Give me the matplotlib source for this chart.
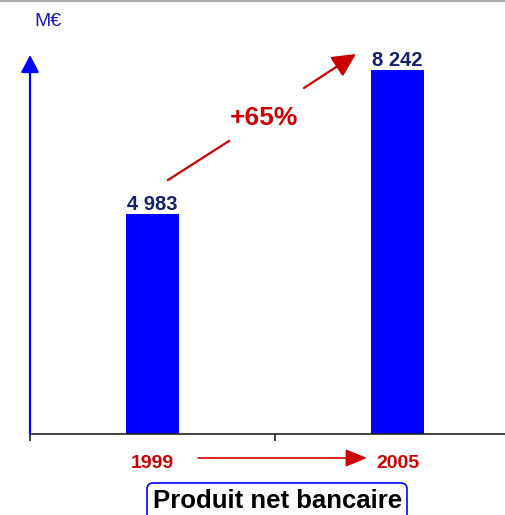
import matplotlib
matplotlib.use("Agg")
import matplotlib.pyplot as plt
from matplotlib.patches import FancyBboxPatch, FancyArrowPatch
from matplotlib.lines import Line2D

# data
years = ["1999", "2005"]
values = [4983, 8242]
value_labels = ["4 983", "8 242"]
growth_label = "+65%"
unit_label = "M€"
title = "Produit net bancaire"

W, H = 505, 515
BLUE = "#0000ff"
RED = "#cc0000"
NAVY = "#15206e"
SANS = ["Liberation Sans", "DejaVu Sans"]


def fx(px):
    return px / W


def fy(py):
    return 1 - py / H


fig = plt.figure(figsize=(W / 100, H / 100), dpi=100)

# axes: x axis at y=434 px, left at x=30 px, y arrow tip at y=55 px
ax = fig.add_axes([fx(30), fy(434), 1 - fx(30), (434 - 55) / H])
x = list(range(len(years)))
ax.bar(x, values, width=0.216, color=BLUE, zorder=2)
ax.set_xlim(-0.5, -0.5 + 475 / 245)
ax.set_ylim(0, 8242 * (434 - 55) / (434 - 70))

for xi, v, lab in zip(x, values, value_labels):
    ax.annotate(lab, (xi, v), xytext=(0, 0), textcoords="offset points",
                ha="center", va="bottom", fontsize=14.5, fontweight="bold",
                color=NAVY, family=SANS)

for s in ["top", "right", "left"]:
    ax.spines[s].set_visible(False)
ax.spines["bottom"].set_color("#222222")
ax.spines["bottom"].set_linewidth(1.2)
ax.set_yticks([])

ax.set_xticks(x, years)
ax.tick_params(axis="x", which="major", length=0, pad=15, labelsize=14,
               labelcolor=RED)
for t in ax.get_xticklabels():
    t.set_fontweight("bold")
    t.set_family(SANS)
ax.set_xticks([-0.5, 0.5], minor=True)
ax.tick_params(axis="x", which="minor", length=5, width=1.2, color="#222222")

# y axis with arrow head
ax.annotate("", xy=(0, 1), xytext=(0, 0), xycoords="axes fraction",
            arrowprops=dict(arrowstyle="-|>,head_length=1.05,head_width=0.55",
                            color=BLUE, lw=1.6, shrinkA=0, shrinkB=0),
            annotation_clip=False)

fig.text(fx(34), fy(22), unit_label, color="#1a1aa0", fontsize=14,
         family=SANS, va="center", ha="left")

# growth arrow, broken around the label
fig.add_artist(Line2D([fx(168), fx(229)], [fy(180), fy(141)],
                      transform=fig.transFigure, color=RED, lw=1.6))
fig.add_artist(FancyArrowPatch(
    (fx(304), fy(88)), (fx(356), fy(54)), transform=fig.transFigure,
    arrowstyle="-|>,head_length=1.1,head_width=0.55", mutation_scale=13,
    color=RED, lw=1.6, shrinkA=0, shrinkB=0))
fig.text(fx(264), fy(118), growth_label, color=RED, fontsize=19,
         fontweight="bold", family=SANS, ha="center", va="center")

# years arrow
fig.add_artist(FancyArrowPatch(
    (fx(198), fy(458)), (fx(367), fy(458)), transform=fig.transFigure,
    arrowstyle="-|>,head_length=1.1,head_width=0.45", mutation_scale=12,
    color=RED, lw=1.2, shrinkA=0, shrinkB=0))

# title box
fig.add_artist(FancyBboxPatch((fx(147), fy(540)), fx(407 - 147), (540 - 483) / H,
                              boxstyle="round,pad=0,rounding_size=0.012",
                              transform=fig.transFigure, fc="white",
                              ec=BLUE, lw=1.2))
fig.text(fx(278), fy(501), title, color="black", fontsize=18.5,
         fontweight="bold", family=SANS, ha="center", va="center")

# top gray rule
fig.add_artist(Line2D([0, 1], [fy(1), fy(1)], transform=fig.transFigure,
                      color="#aaaaaa", lw=1.5))

fig.savefig("out.png", dpi=100)
